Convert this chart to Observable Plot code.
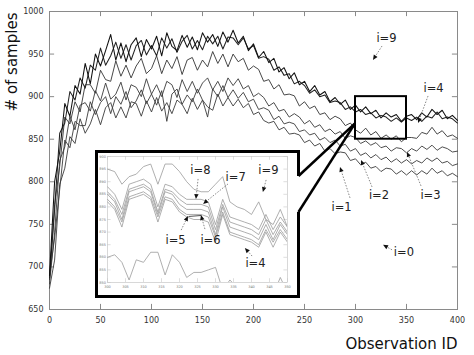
<!DOCTYPE html>
<html><head><meta charset="utf-8">
<script src="https://cdn.jsdelivr.net/npm/d3@7"></script>
<script src="https://cdn.jsdelivr.net/npm/@observablehq/plot@0.6"></script>
<style>
body{margin:0;background:#fff;}
#wrap{position:relative;width:474px;height:355px;font-family:"DejaVu Sans",sans-serif;}
#main,#over{position:absolute;left:0;top:0;}
#inset{position:absolute;left:98px;top:153px;width:199px;height:142px;background:#fff;}
#over{pointer-events:none;}
</style></head><body>
<div id="wrap"><div id="main"></div><div id="inset"></div><svg id="over" width="474" height="355"></svg></div>
<script>
// ---------- data: main chart (observation ID every 5) ----------
const observations = d3.range(0, 401, 5);
const seriesTopA = [690,800,835,892,877,913,903,939,915,950,936,954,973,943,963,941,961,969,947,967,956,971,948,975,959,954,972,958,970,955,975,964,973,959,976,964,978,963,971,954,962,946,953,940,945,929,934,921,928,914,918,906,913,902,906,894,899,891,896,885,890,882,888,880,884,875,881,876,879,871,877,879,873,881,876,885,879,884,874,878,872];
const seriesTopB = [687,767,857,869,906,896,922,910,937,931,957,937,948,964,945,961,943,960,966,949,960,948,969,957,968,952,965,972,956,966,955,971,962,971,956,970,969,961,969,956,960,945,947,944,931,935,925,927,915,918,913,904,908,900,902,893,895,893,885,888,882,885,879,881,875,878,876,871,875,870,875,872,876,871,877,875,882,874,876,874,869];
const series2 = [685,773,818,876,868,894,882,914,914,904,931,920,918,942,924,937,922,936,945,927,933,948,927,943,933,947,926,943,946,931,943,935,953,939,950,935,950,941,945,931,936,932,918,920,909,914,902,903,901,889,894,886,889,879,881,873,877,874,866,869,861,857,863,855,859,851,855,850,854,847,852,852,851,858,856,864,856,860,853,855,851];
const series3 = [680,740,825,841,877,861,890,893,883,907,895,916,897,903,917,896,914,911,900,921,903,914,900,918,914,899,920,906,918,904,916,922,908,918,906,922,913,921,909,913,900,904,899,889,893,883,885,876,880,876,868,872,864,867,859,862,856,859,851,854,852,845,848,843,846,840,842,836,840,839,834,839,836,842,838,843,837,841,839,835,836];
const series4 = [690,734,791,849,840,871,866,866,894,879,893,900,880,900,891,906,887,895,908,892,903,890,907,871,903,909,891,902,894,909,896,876,909,900,913,899,908,898,905,894,897,885,887,884,873,877,868,870,868,859,861,855,857,849,852,846,849,842,844,836,839,831,834,828,832,826,829,823,827,822,826,821,825,822,828,824,828,822,824,819,821];
const series5 = [675,708,797,816,853,845,874,857,868,885,867,887,893,875,888,875,894,892,877,895,882,899,883,893,880,896,891,880,898,885,896,888,884,903,889,899,889,897,887,892,879,882,872,869,871,861,864,856,857,855,846,849,842,845,836,839,833,835,834,825,827,820,823,816,818,812,816,815,809,813,808,813,808,813,809,816,810,813,807,810,806];
const xTicks = [0,50,100,150,200,250,300,350,400];
const yTicks = [650,700,750,800,850,900,950,1000];
const zoomBox = {x1: 300, x2: 350, y1: 850, y2: 900};
const calloutY = 868;

// main annotations (data coords)
const mainLabels = ["i=9","i=4","i=3","i=2","i=1","i=0"];
const mainLabelX = [330.4,376.5,373.5,323,286.3,347.5];
const mainLabelY = [968.9,910.2,784,784,770,717.1];
const mainTailX  = [326.5,371.6,364.7,316.7,295.1,336.3];
const mainTailY  = [958.9,900.2,794.6,793.4,780.5,719.5];
const mainTipX   = [317.6,361.8,351,305.9,285.3,327.5];
const mainTipY   = [942.5,868.5,834.5,825.1,816.9,725.4];

// ---------- data: inset (observation ID every 2, 300..350) ----------
const insetObs = d3.range(300, 351, 2);
const inset9 = [895,894,889,892,893,896,897,889,897,897,894,890,887,886,886,889,892,882,880,879,877,882,875,873,879,872];
const inset8 = [888,885,879,889,890,891,889,880,889,888,885,883,883,883,882,873,883,876,875,874,873,871,877,871,876,872];
const inset7 = [886,883,877,887,888,889,887,878,887,886,883,881,881,881,880,871,881,874,873,872,871,869,875,869,874,870];
const inset6 = [885,882,875,886,887,888,886,877,886,885,881,879,879,879,878,869,880,872,871,870,869,867,873,867,873,869];
const inset5 = [883,880,874,884,885,886,884,876,884,883,879,877,877,877,876,868,878,870,869,868,867,865,871,866,871,867];
const inset4 = [882,879,872,883,884,885,883,874,883,882,878,876,875,875,874,866,877,869,868,867,866,864,870,864,870,866];
const insetLow = [860,861,858,851,859,858,862,862,853,861,858,852,854,854,855,856,847,851,848,846,845,847,846,845,852,846];
const insetXTicks = [300,305,310,315,320,325,330,335,340,345,350];
const insetYTicks = [850,855,860,865,870,875,880,885,890,895,900];

const insetLabels = ["i=8","i=7","i=9","i=5","i=6","i=4"];
const insetLabelX = [325.8,335.6,344.7,318.9,328.6,341.1];
const insetLabelY = [894.4,891.7,894.4,866.7,866.7,857.5];
const insetTailX  = [325.3,333.6,344.2,320.6,327.2,340.3];
const insetTailY  = [890.9,888.9,890.5,870.6,871,860.3];
const insetTipX   = [324.7,326.7,343.3,322.5,326.1,338.3];
const insetTipY   = [882.9,881,885.7,876.2,876.6,863.5];

// ---------- helpers ----------
const toRows = (xs, vs) => vs.map((v, i) => ({obs: xs[i], v}));
const font = "DejaVu Sans, sans-serif";
const plain = d3.format("d");

function labelRows(l, x, y) { return l.map((t, i) => ({t, x: x[i], y: y[i]})); }
function drawArrows(svg, plot, tx, ty, hx, hy) {
  const sx = plot.scale("x"), sy = plot.scale("y");
  const g = d3.select(svg).append("g");
  tx.forEach((_, i) => {
    const x1 = sx.apply(tx[i]), y1 = sy.apply(ty[i]), x2 = sx.apply(hx[i]), y2 = sy.apply(hy[i]);
    const a = Math.atan2(y2 - y1, x2 - x1), L = 5, w = 2.2;
    const bx = x2 - L * Math.cos(a), by = y2 - L * Math.sin(a);
    g.append("line").attr("x1", x1).attr("y1", y1).attr("x2", bx).attr("y2", by)
      .attr("stroke", "#555").attr("stroke-width", 0.7).attr("stroke-dasharray", "1.5,1.5");
    g.append("polygon").attr("fill", "#111")
      .attr("points", [[x2, y2], [bx + w * Math.sin(a), by - w * Math.cos(a)], [bx - w * Math.sin(a), by + w * Math.cos(a)]].map(p => p.join(",")).join(" "));
  });
}

// ---------- main plot ----------
const lineStyle = [
  [series5, "#3a3a3a", 0.9], [series4, "#3a3a3a", 0.9], [series3, "#3a3a3a", 0.9], [series2, "#333", 0.9],
  [seriesTopB, "#222", 1.05], [seriesTopA, "#111", 1.05]
];
const main = Plot.plot({
  width: 474, height: 355,
  marginLeft: 49, marginRight: 17, marginTop: 11, marginBottom: 46,
  x: {domain: [0, 400], ticks: xTicks, tickSize: 0, tickPadding: 8, tickFormat: plain, label: null},
  y: {domain: [650, 1000], ticks: yTicks, tickSize: 0, tickPadding: 6, tickFormat: plain, label: null},
  style: {fontFamily: font, fontSize: "8px", color: "#333", background: "transparent"},
  marks: [
    Plot.frame({stroke: "#8a8a8a"}),
    Plot.ruleY(yTicks, {x1: 0, x2: 5, stroke: "#8a8a8a"}),
    Plot.ruleY(yTicks, {x1: 395, x2: 400, stroke: "#8a8a8a"}),
    Plot.ruleX(xTicks, {y1: 650, y2: 656, stroke: "#8a8a8a"}),
    Plot.ruleX(xTicks, {y1: 994, y2: 1000, stroke: "#8a8a8a"}),
    ...lineStyle.map(([s, c, w]) => Plot.line(toRows(observations, s), {x: "obs", y: "v", stroke: c, strokeWidth: w})),
    Plot.rect([zoomBox], {x1: "x1", x2: "x2", y1: "y1", y2: "y2", fill: "none", stroke: "#000", strokeWidth: 2}),
    Plot.text(labelRows(mainLabels, mainLabelX, mainLabelY), {x: "x", y: "y", text: "t", fontSize: 11.5, fill: "#222"}),
    Plot.text(["Observation ID"], {frameAnchor: "bottom-right", dy: 39, textAnchor: "end", fontSize: 15, fill: "#111"})
  ]
});
document.getElementById("main").append(main);
drawArrows(main, main, mainTailX, mainTailY, mainTipX, mainTipY);
d3.select(main).append("text")
  .attr("transform", "translate(17,62) rotate(-90)")
  .attr("text-anchor", "middle")
  .attr("font-family", font).attr("font-size", 15).attr("fill", "#111")
  .text("# of samples");

// ---------- inset plot ----------
const insetLines = [inset9, inset8, inset7, inset6, inset5, inset4, insetLow];
const inset = Plot.plot({
  width: 199, height: 142,
  marginLeft: 9, marginRight: 10, marginTop: 3, marginBottom: 13,
  x: {domain: [300, 350], ticks: insetXTicks, tickSize: 0, tickPadding: 3, tickFormat: plain, label: null},
  y: {domain: [850, 900], ticks: insetYTicks, tickSize: 0, tickPadding: 1.5, tickFormat: plain, label: null},
  style: {fontFamily: font, fontSize: "3.5px", color: "#777", background: "#fff"},
  marks: [
    Plot.frame({stroke: "#c8c8c8", strokeWidth: 0.7}),
    Plot.ruleY(insetYTicks, {x1: 300, x2: 301, stroke: "#c8c8c8", strokeWidth: 0.6}),
    Plot.ruleY(insetYTicks, {x1: 349, x2: 350, stroke: "#c8c8c8", strokeWidth: 0.6}),
    Plot.ruleX(insetXTicks, {y1: 850, y2: 851.5, stroke: "#c8c8c8", strokeWidth: 0.6}),
    Plot.ruleX(insetXTicks, {y1: 898.5, y2: 900, stroke: "#c8c8c8", strokeWidth: 0.6}),
    ...insetLines.map(s => Plot.line(toRows(insetObs, s), {x: "obs", y: "v", stroke: "#9a9a9a", strokeWidth: 0.8, clip: true})),
    Plot.link([{a: insetTipX[3], b: insetTipY[3], c: insetTipX[4], d: insetTipY[4]}], {x1: "a", y1: "b", x2: "c", y2: "d", stroke: "#222", strokeWidth: 0.8}),
    Plot.text(labelRows(insetLabels, insetLabelX, insetLabelY), {x: "x", y: "y", text: "t", fontSize: 11.5, fill: "#222"})
  ]
});
document.getElementById("inset").append(inset);
drawArrows(inset, inset, insetTailX, insetTailY, insetTipX, insetTipY);

// ---------- overlay: inset border and callout lines ----------
const iL = 96.5, iT = 151.5, iR = 298.5, iB = 296.5, gapTop = 176, gapBot = 212;
const over = d3.select("#over");
over.append("path")
  .attr("d", `M${iR},${gapTop}L${iR},${iT}L${iL},${iT}L${iL},${iB}L${iR},${iB}L${iR},${gapBot}`)
  .attr("fill", "none").attr("stroke", "#000").attr("stroke-width", 3).attr("stroke-linejoin", "miter");
const ax = main.scale("x").apply(zoomBox.x1), ay = main.scale("y").apply(calloutY);
[gapTop, gapBot].forEach(gy => {
  over.append("line").attr("x1", iR).attr("y1", gy).attr("x2", ax).attr("y2", ay)
    .attr("stroke", "#000").attr("stroke-width", 2.5);
});
</script>
</body></html>
